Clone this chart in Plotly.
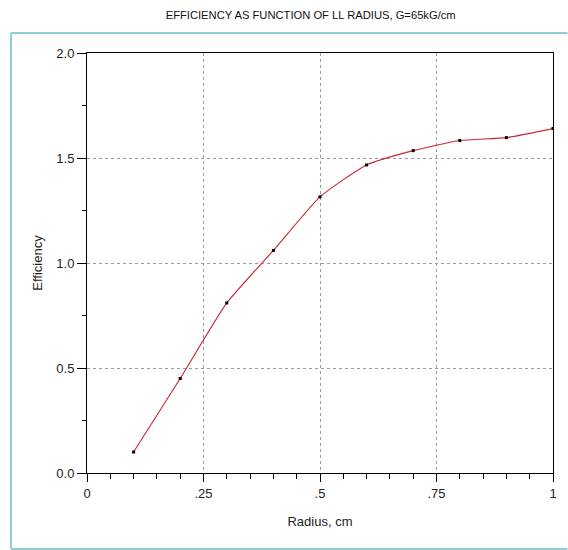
import plotly.graph_objects as go

radius = [0.1, 0.2, 0.3, 0.4, 0.5, 0.6, 0.7, 0.8, 0.9, 1.0]
efficiency = [0.10, 0.45, 0.81, 1.06, 1.315, 1.467, 1.535, 1.583, 1.597, 1.64]

x_tickvals = [0, 0.25, 0.5, 0.75, 1]
x_ticktext = ["0", ".25", ".5", ".75", "1"]
y_tickvals = [0.0, 0.5, 1.0, 1.5, 2.0]
y_ticktext = ["0.0", "0.5", "1.0", "1.5", "2.0"]

title_text = "EFFICIENCY AS FUNCTION OF LL RADIUS, G=65kG/cm"
x_title = "Radius, cm"
y_title = "Efficiency"

FONT = "Liberation Sans, Arial, sans-serif"

fig = go.Figure()
fig.add_trace(go.Scatter(
    x=radius, y=efficiency, mode="lines+markers",
    line=dict(color="#c8282d", width=1.1, shape="spline", smoothing=0.5),
    marker=dict(color="black", size=3, symbol="square"),
    showlegend=False, hoverinfo="x+y",
))

# outer panel border (light teal): top, left, bottom edges only
border = dict(color="#8fcdd6", width=2)
px0, px1, py0, py1 = -0.163, 1.031, -0.181, 1.0476
for (a, b, c, d) in [(px0, py1, px1, py1), (px0, py0, px0, py1), (px0, py0, px1, py0)]:
    fig.add_shape(type="line", xref="paper", yref="paper",
                  x0=a, y0=b, x1=c, y1=d, line=border, layer="below")

fig.update_layout(
    width=568, height=550,
    margin=dict(l=87, r=15, t=53, b=77),
    paper_bgcolor="white", plot_bgcolor="white",
    font=dict(family=FONT, size=13, color="#222"),
    title=dict(text=title_text, x=0.48, xref="paper", xanchor="center",
               y=1 - 15 / 550, yref="container", yanchor="middle",
               font=dict(family=FONT, size=11.2, color="#111")),
)

fig.update_xaxes(
    range=[0, 1], tickmode="array", tickvals=x_tickvals, ticktext=x_ticktext,
    showline=True, linecolor="black", linewidth=1, mirror=True,
    ticks="outside", ticklen=8, tickcolor="black", tickwidth=1,
    minor=dict(tickmode="linear", tick0=0, dtick=0.05, ticks="outside",
               ticklen=5, tickcolor="black", showgrid=False),
    showgrid=True, gridcolor="#9a9a9a", griddash="dot", gridwidth=1,
    zeroline=False,
    title=dict(text=x_title, standoff=17, font=dict(size=13)),
    tickfont=dict(size=13),
)
fig.update_yaxes(
    range=[0, 2], tickmode="array", tickvals=y_tickvals, ticktext=y_ticktext,
    showline=True, linecolor="black", linewidth=1, mirror=True,
    ticks="outside", ticklen=9, tickcolor="black", tickwidth=1,
    minor=dict(tickmode="linear", tick0=0, dtick=0.25, ticks="outside",
               ticklen=4, tickcolor="black", showgrid=False),
    showgrid=True, gridcolor="#9a9a9a", griddash="dot", gridwidth=1,
    zeroline=False,
    title=dict(text=y_title, standoff=10, font=dict(size=13)),
    tickfont=dict(size=13),
)

fig.write_html("out.html")
